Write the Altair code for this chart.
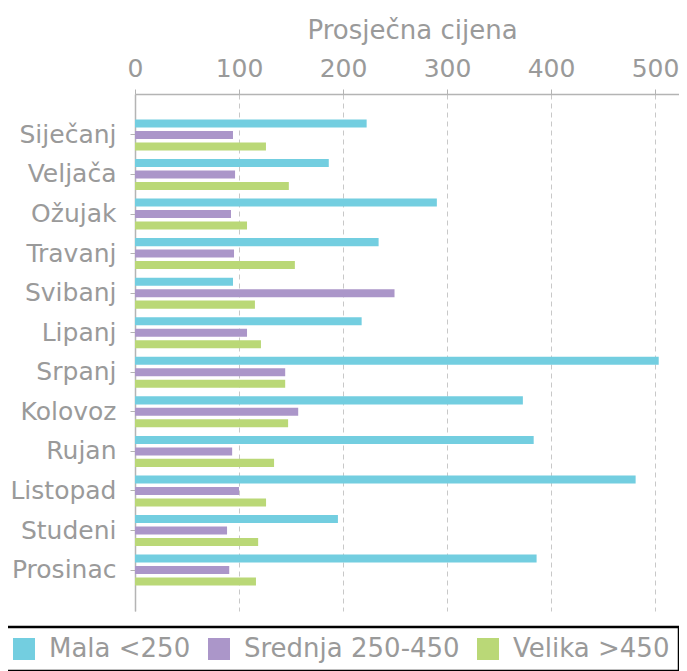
import altair as alt
import pandas as pd

months = ["Siječanj", "Veljača", "Ožujak", "Travanj", "Svibanj", "Lipanj",
          "Srpanj", "Kolovoz", "Rujan", "Listopad", "Studeni", "Prosinac"]
series = ["Mala <250", "Srednja 250-450", "Velika >450"]
mala = [222.7, 186.3, 290.2, 234.2, 94.2, 217.9, 503.5, 372.9, 383.3, 481.3, 195.1, 386.1]
srednja = [94.2, 96.2, 92.3, 95.2, 249.5, 107.7, 144.4, 156.9, 93.4, 100.0, 88.5, 90.6]
velika = [125.9, 147.9, 107.7, 153.7, 115.3, 121.1, 144.4, 147.2, 133.7, 126.0, 118.4, 116.3]
colors = ["#73CEE0", "#AB96C9", "#BAD877"]

rows = []
for i, m in enumerate(months):
    for s, vals in zip(series, [mala, srednja, velika]):
        rows.append({"Mjesec": m, "Serija": s, "Cijena": vals[i]})
df = pd.DataFrame(rows)

grey = "#9a9a9a"
axis_grey = "#b4b4b4"

chart = alt.Chart(df).mark_bar().encode(
    x=alt.X("Cijena:Q",
            scale=alt.Scale(domain=[0, 523], nice=False, zero=True),
            axis=alt.Axis(orient="top", title="Prosječna cijena", values=[0, 100, 200, 300, 400, 500],
                          grid=True, gridDash=[5, 4], gridColor="#c8c8c8", gridWidth=1,
                          domainColor=axis_grey, domainWidth=1.5, tickColor=axis_grey, tickSize=5,
                          labelFontSize=25, labelColor=grey, labelPadding=8, labelFlush=False,
                          titleFontSize=26, titleColor=grey, titleFontWeight="normal",
                          titlePadding=13, titleX=277, titleAnchor="middle")),
    y=alt.Y("Mjesec:N", sort=months,
            scale=alt.Scale(paddingInner=0.13, paddingOuter=0.6),
            axis=alt.Axis(title=None, domainColor=axis_grey, domainWidth=1.5, tickColor=axis_grey,
                          tickSize=5, labelFontSize=25, labelColor=grey, labelPadding=14)),
    yOffset=alt.YOffset("Serija:N", sort=series,
                        scale=alt.Scale(paddingInner=0.3, paddingOuter=0.15)),
    color=alt.Color("Serija:N", sort=series,
                    scale=alt.Scale(domain=series, range=colors),
                    legend=alt.Legend(title=None, orient="none", legendX=-133, legendY=533,
                                      direction="horizontal", columns=3,
                                      symbolType="square", symbolSize=484, symbolStrokeWidth=0,
                                      labelFontSize=26, labelColor=grey, labelOffset=12,
                                      columnPadding=15, labelLimit=400,
                                      strokeColor="black", fillColor="white", padding=9)),
).properties(
    width=544, height=517,
    autosize=alt.AutoSizeParams(type="none"),
    padding={"left": 127, "top": 86, "right": 0, "bottom": 60},
).configure(
    font="DejaVu Sans",
).configure_view(
    stroke=None
).configure_legend(
    strokeColor="black",
    strokeWidth=2.5
)

chart.save("out.html", embed_options={"renderer": "svg", "actions": False})
